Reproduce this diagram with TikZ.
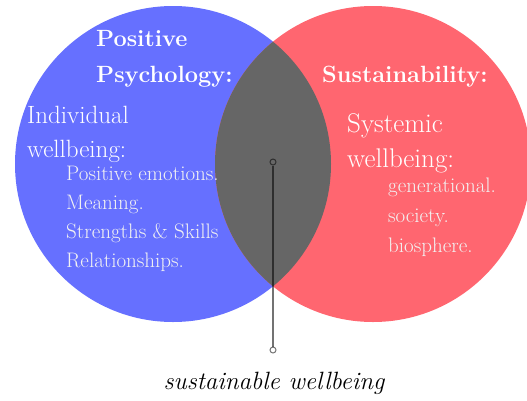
\documentclass[tikz,border=0pt]{standalone}
\usepackage{fontspec}
\definecolor{vblue}{RGB}{102,112,255}
\definecolor{vred}{RGB}{255,102,112}
\definecolor{vgray}{RGB}{102,102,102}
\tikzset{
  venn/.style={circle, minimum size=316pt, inner sep=0pt},
  headtxt/.style={anchor=base west, text=white, font=\fontsize{23.5}{23.5}\selectfont\bfseries, inner sep=0pt},
  subtxtL/.style={anchor=base west, text=white, font=\fontsize{25}{25}\selectfont, inner sep=0pt},
  subtxtR/.style={anchor=base west, text=white, font=\fontsize{27}{27}\selectfont, inner sep=0pt},
  itemtxt/.style={anchor=base west, text=white!95!black, font=\fontsize{21}{21}\selectfont, inner sep=0pt},
  dot/.style={circle, draw=black, draw opacity=0.55, line width=1pt, inner sep=0pt, minimum size=6pt},
  leader/.style={draw=black, draw opacity=0.55, line width=1.3pt}
}
\begin{document}
\begin{tikzpicture}[x=1pt,y=-1pt]
\useasboundingbox (0,0) rectangle (527,400);
\node[venn, fill=vblue] (blue) at (173,164) {};
\node[venn, fill=vred] (red) at (373,164) {};
\begin{scope}
  \clip (173,164) circle (158);
  \fill[vgray] (373,164) circle (158);
\end{scope}
% left texts
\node[headtxt] (pos) at (96,46) {Positive};
\node[headtxt] (psy) at (96,82) {Psychology:};
\node[subtxtL] (ind) at (27,123) {Individual};
\node[subtxtL] (wb1) at (27,157) {wellbeing:};
\node[itemtxt] (i1) at (66,180) {Positive emotions.};
\node[itemtxt] (i2) at (66,209) {Meaning.};
\node[itemtxt] (i3) at (66,238) {Strengths \& Skills};
\node[itemtxt] (i4) at (66,267) {Relationships.};
% right texts
\node[headtxt] (sus) at (322,82) {Sustainability:};
\node[subtxtR] (sys) at (347,132) {Systemic};
\node[subtxtR] (wb2) at (347,167) {wellbeing:};
\node[itemtxt] (r1) at (388,192) {generational.};
\node[itemtxt] (r2) at (388,222) {society.};
\node[itemtxt] (r3) at (388,252) {biosphere.};
% leader
\node[dot, fill=vgray] (dtop) at (273,162) {};
\node[dot, fill=white] (dbot) at (273,350) {};
\draw[leader] (dtop) -- (dbot);
\node[anchor=base, inner sep=0pt, font=\fontsize{25}{25}\selectfont\itshape] (lab) at (274,389) {sustainable wellbeing};
\end{tikzpicture}
\end{document}
